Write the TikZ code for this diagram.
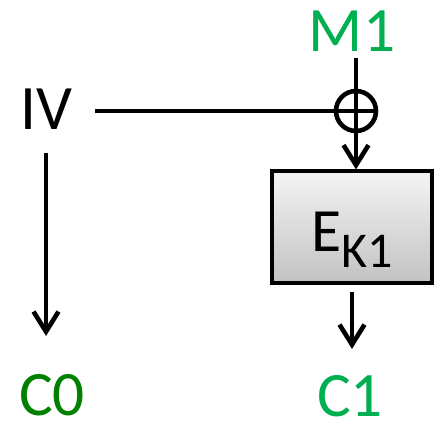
\documentclass[tikz,border=0pt]{standalone}
\usepackage{fontspec}
\setmainfont{Carlito}
\usepackage{tikz}
\usetikzlibrary{arrows.meta}
\definecolor{mgreen}{RGB}{0,176,80}
\definecolor{dgreen}{RGB}{0,128,0}
\begin{document}
\begin{tikzpicture}[font=\fontsize{36}{40}\selectfont,lbl/.style={inner sep=0pt},ln/.style={line width=2.6pt},arr/.style={ln,-{Straight Barb[length=4mm,width=5mm]}},enc/.style={draw,line width=1.8pt,minimum width=3.2cm,minimum height=2.24cm,top color=black!4,bottom color=black!24,text height=28pt,text depth=0pt,inner sep=0pt},xorop/.style={circle,draw,line width=2.6pt,minimum size=0.8cm,inner sep=0pt,path picture={\draw[line width=2.6pt] (path picture bounding box.north)--(path picture bounding box.south) (path picture bounding box.west)--(path picture bounding box.east);}}]
\useasboundingbox (0,0) rectangle (8.74,8.42);
\node[lbl,text=mgreen] (m1) at (7.04,7.8) {M1};
\node[lbl] (iv) at (0.92,6.24) {IV};
\node[xorop] (xor) at (7.12,6.2) {};
\node[enc] (enc) at (7.04,3.88) {\fontsize{35}{40}\selectfont E\raisebox{-9pt}{\fontsize{28.5}{32}\selectfont K1}};
\node[lbl,text=dgreen] (c0) at (1.04,0.52) {C0};
\node[lbl,text=mgreen] (c1) at (7.0,0.5) {C1};
\draw[ln,shorten <=0.12cm] (m1.south -| xor.north)--(xor.north);
\draw[ln,shorten <=0.46cm] (iv.east |- xor.west)--(xor.west);
\draw[arr] (xor.south)--(xor.south |- enc.north);
\draw[arr,shorten <=0.46cm,shorten >=0.76cm] (iv.south)--(iv.south |- c0.north);
\draw[arr,shorten <=0.14cm,shorten >=0.52cm] (enc.south)--(enc.south |- c1.north);
\end{tikzpicture}
\end{document}
